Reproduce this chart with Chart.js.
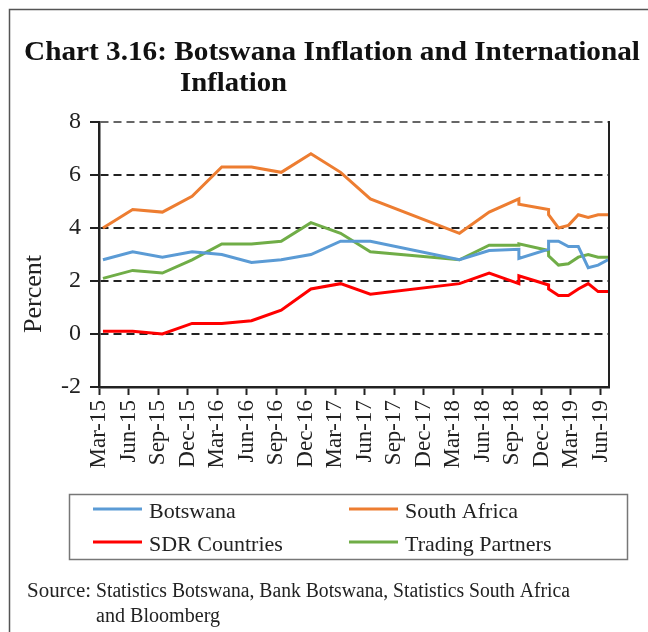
<!DOCTYPE html>
<html>
<head>
<meta charset="utf-8">
<script src="https://cdn.jsdelivr.net/npm/chart.js@4"></script>
<style>
  body { margin: 0; background: #fff; }
  #wrap { width: 648px; height: 632px; }
</style>
</head>
<body>
<div id="wrap"><canvas id="infl_chart" width="648" height="632"></canvas></div>
<script>
// x positions in months counted from Mar-15 (=0). Sep-18 and Dec-18 show up twice
// in the source chart (quarterly series joined to monthly one), hence the repeats.
var monthIdx = [0, 3, 6, 9, 12, 15, 18, 21, 24, 27, 36, 39, 42, 42, 45, 45, 46, 47, 48, 49, 50, 51];

var botswana = [2.8, 3.1, 2.9, 3.1, 3.0, 2.7, 2.8, 3.0, 3.5, 3.5, 2.8, 3.15, 3.2, 2.85, 3.2, 3.5, 3.5, 3.3, 3.3, 2.5, 2.6, 2.8];
var southAfrica = [4.0, 4.7, 4.6, 5.2, 6.3, 6.3, 6.1, 6.8, 6.1, 5.1, 3.8, 4.6, 5.1, 4.9, 4.7, 4.5, 4.0, 4.1, 4.5, 4.4, 4.5, 4.5];
var sdrCountries = [0.1, 0.1, 0.0, 0.4, 0.4, 0.5, 0.9, 1.7, 1.9, 1.5, 1.9, 2.3, 1.9, 2.2, 1.85, 1.7, 1.45, 1.45, 1.7, 1.9, 1.6, 1.6];
var tradingPartners = [2.1, 2.4, 2.3, 2.8, 3.4, 3.4, 3.5, 4.2, 3.8, 3.1, 2.8, 3.35, 3.35, 3.4, 3.15, 2.95, 2.6, 2.65, 2.9, 3.0, 2.9, 2.9];

var quarterLabels = ["Mar-15", "Jun-15", "Sep-15", "Dec-15", "Mar-16", "Jun-16", "Sep-16", "Dec-16", "Mar-17",
                     "Jun-17", "Sep-17", "Dec-17", "Mar-18", "Jun-18", "Sep-18", "Dec-18", "Mar-19", "Jun-19"];

var seriesNames = ["Botswana", "South Africa", "SDR Countries", "Trading Partners"];
var seriesColors = ["#5B9BD5", "#ED7D31", "#FF0000", "#70AD47"];

function toPoints(vals) {
  var pts = [];
  for (var i = 0; i < vals.length; i++) { pts.push({x: monthIdx[i], y: vals[i]}); }
  return pts;
}

var serif = "'Liberation Serif', 'Times New Roman', serif";

// draw text squeezed to a target width (the original uses a narrow Times)
function fitText(ctx, txt, x, y, w) {
  var m = ctx.measureText(txt).width;
  var sx = w ? w / m : 1;
  ctx.save();
  ctx.translate(x, y);
  ctx.scale(sx, 1);
  ctx.fillText(txt, 0, 0);
  ctx.restore();
}

var decor = {
  id: 'decor',
  afterDraw: function(chart) {
    var ctx = chart.ctx, ca = chart.chartArea;
    ctx.save();

    // right edge of plot area
    ctx.strokeStyle = '#222';
    ctx.lineWidth = 2;
    ctx.beginPath(); ctx.moveTo(ca.right, ca.top - 1); ctx.lineTo(ca.right, ca.bottom); ctx.stroke();

    // outer frame (top and left only)
    ctx.strokeStyle = '#555';
    ctx.lineWidth = 1.5;
    ctx.beginPath(); ctx.moveTo(648, 9.5); ctx.lineTo(9.5, 9.5); ctx.lineTo(9.5, 632); ctx.stroke();

    // title
    ctx.fillStyle = '#111';
    ctx.textBaseline = 'alphabetic';
    ctx.font = 'bold 28px ' + serif;
    fitText(ctx, "Chart 3.16: Botswana Inflation and International", 24, 60, 616);
    fitText(ctx, "Inflation", 180, 91, 107);

    // y axis title
    ctx.fillStyle = '#222';
    ctx.font = '25px ' + serif;
    ctx.save();
    ctx.translate(41, 294);
    ctx.rotate(-Math.PI / 2);
    fitText(ctx, "Percent", -39, 0, 78);
    ctx.restore();

    // legend box
    ctx.font = '22px ' + serif;
    ctx.strokeStyle = '#777';
    ctx.lineWidth = 1.5;
    ctx.strokeRect(69.5, 494.5, 558, 65);
    var cols = [93, 349], rows = [509, 542];
    chart.data.datasets.forEach(function(ds, i) {
      var x = cols[i % 2], y = rows[Math.floor(i / 2)];
      ctx.strokeStyle = ds.borderColor;
      ctx.lineWidth = 3;
      ctx.beginPath(); ctx.moveTo(x, y); ctx.lineTo(x + 49, y); ctx.stroke();
      ctx.fillStyle = '#222';
      ctx.textAlign = 'left';
      ctx.fillText(ds.label, x + 56, y + 9);
    });

    // source note
    ctx.font = '20px ' + serif;
    ctx.fillStyle = '#222';
    fitText(ctx, "Source:", 27, 597, 64);
    fitText(ctx, "Statistics Botswana, Bank Botswana, Statistics South Africa", 96, 597, 474);
    fitText(ctx, "and Bloomberg", 96, 622, 124);

    ctx.restore();
  }
};

var datasets = [];
var allSeries = [botswana, southAfrica, sdrCountries, tradingPartners];
for (var s = 0; s < allSeries.length; s++) {
  datasets.push({
    label: seriesNames[s],
    data: toPoints(allSeries[s]),
    borderColor: seriesColors[s],
    backgroundColor: seriesColors[s],
    borderWidth: 3,
    pointRadius: 0,
    tension: 0,
    fill: false
  });
}

new Chart("infl_chart", {
  type: "line",
  data: { datasets: datasets },
  options: {
    responsive: false,
    animation: false,
    layout: { padding: { left: 0, right: 39, top: 122, bottom: 0 } },
    plugins: {
      legend: { display: false },
      title: { display: false },
      tooltip: { enabled: false }
    },
    scales: {
      x: {
        type: 'linear',
        min: -0.4,
        max: 51.1,
        afterBuildTicks: function(axis) {
          axis.ticks = quarterLabels.map(function(l, i) { return { value: i * 2.977 - 0.37 }; });
        },
        afterFit: function(axis) { axis.height = 245; },
        ticks: {
          autoSkip: false,
          minRotation: 90,
          maxRotation: 90,
          padding: 5,
          color: '#222',
          font: { family: serif, size: 23 },
          callback: function(v, i) { return quarterLabels[i]; }
        },
        grid: { drawOnChartArea: false, tickLength: 8, tickWidth: 2, tickColor: '#222' },
        border: { color: '#222', width: 2.5 }
      },
      y: {
        min: -2,
        max: 8,
        afterFit: function(axis) { axis.width = 99; },
        ticks: {
          stepSize: 2,
          padding: 9,
          color: '#222',
          font: { family: serif, size: 24 }
        },
        grid: {
          color: function(c) { return c.tick && c.tick.value === 8 ? '#666' : '#222'; },
          lineWidth: 2,
          tickLength: 9,
          tickWidth: 2,
          tickColor: '#222'
        },
        border: { color: '#222', width: 2.5, dash: [8, 5] }
      }
    }
  },
  plugins: [decor]
});
</script>
</body>
</html>
